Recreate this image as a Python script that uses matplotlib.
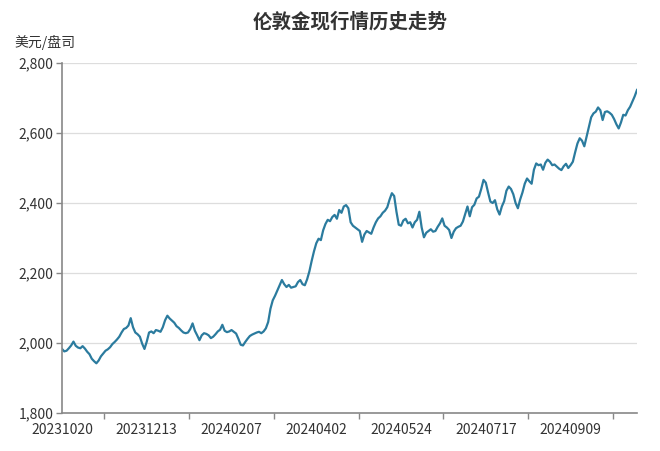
import matplotlib
matplotlib.use("Agg")
import matplotlib.pyplot as plt
from matplotlib.ticker import FuncFormatter

plt.rcParams['font.family'] = ['Noto Sans CJK SC', 'DejaVu Sans']

title = "伦敦金现行情历史走势"
unit_label = "美元/盘司"
x_tick_labels = ["20231020", "20231213", "20240207", "20240402",
                 "20240524", "20240717", "20240909"]
y_ticks = [1800, 2000, 2200, 2400, 2600, 2800]

prices = [
    1983, 1976, 1978, 1985, 1993, 2004, 1992, 1987, 1985, 1991,
    1984, 1975, 1968, 1955, 1948, 1942, 1950, 1962, 1970, 1978,
    1982, 1988, 1997, 2003, 2010, 2018, 2030, 2040, 2043, 2050,
    2071, 2045, 2030, 2025, 2018, 1998, 1983, 2004, 2030, 2033,
    2028, 2037, 2035, 2032, 2045, 2065, 2078, 2070, 2064, 2058,
    2048, 2043, 2036, 2030, 2028, 2030, 2040, 2056, 2035, 2022,
    2008, 2022, 2028, 2026, 2022, 2014, 2018, 2025, 2033, 2038,
    2052, 2035, 2031, 2033, 2037, 2032, 2027, 2012, 1995, 1993,
    2003, 2012, 2020, 2024, 2027, 2030, 2032, 2028, 2033, 2042,
    2060, 2098, 2122, 2135, 2150, 2165, 2180, 2168, 2160, 2166,
    2158, 2160, 2162, 2174, 2180, 2168, 2165, 2182, 2205, 2235,
    2262, 2285, 2298, 2294, 2322, 2340, 2352, 2348, 2360, 2366,
    2355, 2380, 2372, 2390, 2394, 2385, 2345, 2335, 2330, 2325,
    2320, 2289, 2310, 2320, 2316, 2312, 2330, 2345, 2356, 2362,
    2372, 2378, 2388, 2410, 2428, 2420, 2375, 2338, 2335, 2350,
    2355, 2342, 2345, 2330, 2345, 2352, 2375, 2330, 2302, 2315,
    2320, 2325, 2318, 2320, 2332, 2342, 2356, 2335, 2330, 2323,
    2300, 2318, 2328, 2332, 2335, 2347, 2368, 2390, 2362, 2388,
    2395, 2413, 2418, 2440, 2466, 2458, 2430, 2404, 2400, 2408,
    2382, 2367, 2390, 2405, 2435, 2447, 2440, 2425, 2400, 2385,
    2410, 2430, 2455, 2470, 2462, 2455, 2495, 2513, 2508, 2510,
    2495, 2515, 2524, 2518, 2508, 2510, 2504, 2498, 2494, 2505,
    2512, 2500, 2508, 2518, 2545, 2570, 2585, 2578, 2562, 2590,
    2618, 2645, 2656, 2661, 2673, 2665, 2637, 2660, 2662, 2658,
    2652, 2640, 2625, 2613, 2630, 2652, 2650, 2665, 2675, 2690,
    2705, 2723,
]

label_step = 37

fig = plt.figure(figsize=(6.6, 4.51), dpi=100)
ax = fig.add_axes([62 / 660, 1 - 413 / 451, 575 / 660, 350 / 451])

xs = list(range(len(prices)))
ax.plot(xs, prices, color="#2b7b9e", linewidth=1.6, solid_joinstyle="round")

ax.set_xlim(0, len(prices) - 1)
ax.set_ylim(y_ticks[0], y_ticks[-1])

ax.set_yticks(y_ticks)
ax.yaxis.set_major_formatter(FuncFormatter(lambda v, p: f"{int(v):,}"))
ax.grid(axis="y", color="#dddddd", linewidth=0.9)
ax.set_axisbelow(True)

label_pos = [i * label_step for i in range(len(x_tick_labels))]
ax.set_xticks(label_pos)
ax.set_xticklabels(x_tick_labels)
ax.tick_params(axis="x", length=0, pad=7, labelsize=10, colors="#333333")
minor_pos = [p + label_step / 2 for p in label_pos]
ax.set_xticks(minor_pos, minor=True)
ax.tick_params(axis="x", which="minor", length=4, width=1, color="#888888")
ax.tick_params(axis="y", length=4, width=1, color="#888888", pad=2,
               labelsize=10, labelcolor="#333333")

for s in ["top", "right"]:
    ax.spines[s].set_visible(False)
for s in ["left", "bottom"]:
    ax.spines[s].set_color("#888888")
    ax.spines[s].set_linewidth(1.2)

fig.text(350 / 660, 1 - 22 / 451, title, ha="center", va="center",
         fontsize=14, fontweight="bold", color="#333333")
fig.text(14 / 660, 1 - 42 / 451, unit_label, ha="left", va="center",
         fontsize=10, color="#333333")

fig.savefig("out.png", dpi=100)
